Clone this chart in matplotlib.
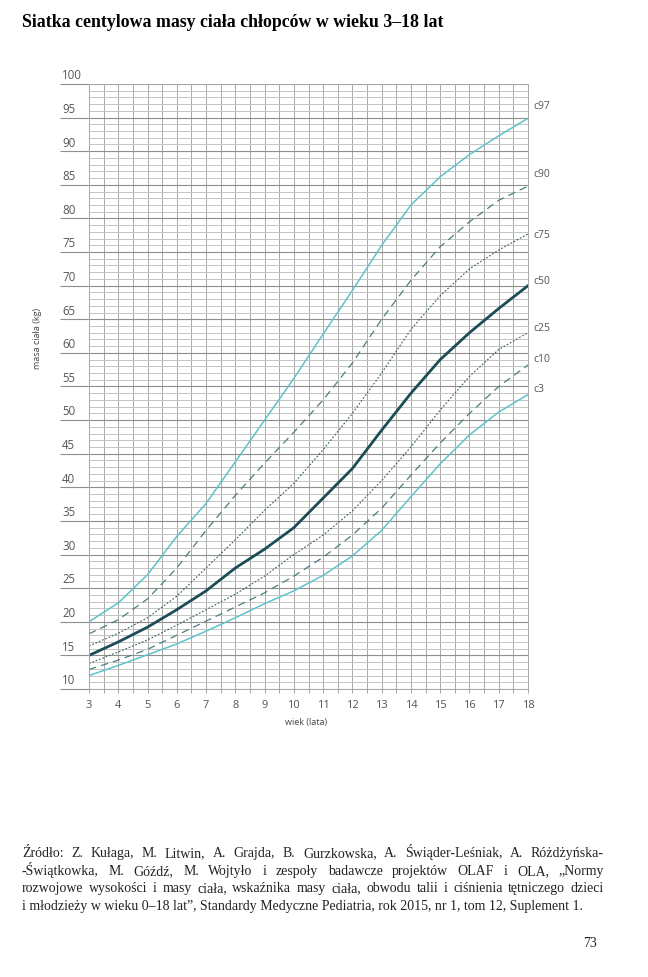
import numpy as np
import matplotlib
matplotlib.use("Agg")
import matplotlib.pyplot as plt
import matplotlib.transforms as mtransforms

wiek = [3, 4, 5, 6, 7, 8, 9, 10, 11, 12, 13, 14, 15, 16, 17, 18]
c3 = [12.0, 13.5, 15.1, 16.7, 18.6, 20.6, 22.7, 24.6, 26.9, 29.8, 33.6, 38.6, 43.5, 47.8, 51.2, 53.8]
c10 = [12.9, 14.3, 15.9, 18.0, 20.1, 22.2, 24.3, 26.8, 29.6, 32.9, 36.9, 41.8, 46.6, 51.0, 55.0, 58.2]
c25 = [13.8, 15.5, 17.3, 19.5, 21.8, 24.1, 26.8, 30.0, 32.9, 36.5, 41.0, 46.0, 51.5, 56.5, 60.5, 63.0]
c50 = [15.0, 17.0, 19.2, 21.8, 24.6, 28.0, 30.8, 34.0, 38.4, 42.8, 48.5, 54.0, 59.0, 63.0, 66.6, 70.0]
c75 = [16.4, 18.3, 20.6, 23.8, 28.0, 32.2, 36.6, 40.6, 45.6, 51.0, 57.0, 63.5, 68.5, 72.5, 75.3, 77.7]
c90 = [18.2, 20.3, 23.4, 28.0, 33.6, 38.8, 43.6, 48.2, 53.0, 58.5, 65.0, 70.8, 75.8, 79.5, 82.7, 84.8]
c97 = [20.0, 22.8, 27.0, 32.7, 37.6, 43.8, 50.0, 56.2, 62.8, 69.3, 76.0, 82.0, 86.2, 89.5, 92.3, 94.9]

y_ticks = list(range(10, 101, 5))

tytul = "Siatka centylowa masy ciała chłopców w wieku 3–18 lat"
zrodlo = [
    "Źródło: Z. Kułaga, M. Litwin, A. Grajda, B. Gurzkowska, A. Świąder-Leśniak, A. Różdżyńska-",
    "-Świątkowka, M. Góźdź, M. Wojtyło i zespoły badawcze projektów OLAF i OLA, „Normy",
    "rozwojowe wysokości i masy ciała, wskaźnika masy ciała, obwodu talii i ciśnienia tętniczego dzieci",
    "i młodzieży w wieku 0–18 lat”, Standardy Medyczne Pediatria, rok 2015, nr 1, tom 12, Suplement 1.",
]

W, H = 648, 977
fig = plt.figure(figsize=(W / 100, H / 100), dpi=100)
fig.patch.set_facecolor("white")

# obszar wykresu: x 89..528 px, y 84..689 px
ax = fig.add_axes([89 / W, 1 - 689 / H, (528 - 89) / W, (689 - 84) / H])
ax.set_xlim(3, 18)
ax.set_ylim(10, 100)

grid_minor = "#c4c4c4"
grid_major = "#8f8f8f"
ax.set_xticks(wiek)
ax.set_xticks(np.arange(3.5, 18, 1), minor=True)
ax.set_yticks(y_ticks)
ax.set_yticks(np.arange(10, 101, 1), minor=True)
ax.grid(which="minor", axis="y", color=grid_minor, lw=0.7)
ax.grid(which="major", axis="y", color=grid_major, lw=0.8)
ax.grid(which="both", axis="x", color="#a8a8a8", lw=0.7)
ax.set_axisbelow(True)
for s in ax.spines.values():
    s.set_color("#a8a8a8")
    s.set_linewidth(0.7)

ax.tick_params(axis="x", which="both", length=3, color="#a8a8a8", width=0.7,
               pad=5, labelsize=8, labelcolor="#555555")
ax.tick_params(axis="y", which="major", length=21, color=grid_major, width=0.8,
               labelleft=False)
ax.tick_params(axis="y", which="minor", length=0)
for lab in ax.get_xticklabels():
    lab.set_fontfamily("Open Sans")

# etykiety osi Y nad liniami
trans = mtransforms.blended_transform_factory(ax.transAxes, ax.transData)
for v in y_ticks:
    ax.text(-0.0615, v + 0.25, str(v), transform=trans, ha="left", va="bottom",
            fontsize=8.3, color="#555555", family="Open Sans")

ax.set_xlabel("wiek (lata)", fontsize=6.5, color="#444444", family="Open Sans",
              labelpad=4)
ax.xaxis.set_label_coords(0.495, -0.048)
ax.set_ylabel("masa ciała (kg)", fontsize=6.5, color="#444444", family="Open Sans")
ax.yaxis.set_label_coords(-0.108, 0.58)

cyan = "#5ec3c9"
ax.plot(wiek, c3, color=cyan, lw=1.1)
ax.plot(wiek, c10, color="#4d7c82", lw=0.9, dashes=(6, 4))
ax.plot(wiek, c25, color="#3a5f64", lw=0.8, dashes=(1.6, 1.6))
ax.plot(wiek, c50, color="#1c4d55", lw=2.0)
ax.plot(wiek, c75, color="#3a5f64", lw=0.8, dashes=(1.6, 1.6))
ax.plot(wiek, c90, color="#4d7c82", lw=0.9, dashes=(6, 4))
ax.plot(wiek, c97, color=cyan, lw=1.1)

for name, ser, dy in [("c97", c97, 8.5), ("c90", c90, 8.5), ("c75", c75, -1),
                      ("c50", c50, 3), ("c25", c25, 3), ("c10", c10, 4), ("c3", c3, 4)]:
    ax.annotate(name, (18, ser[-1]), xytext=(4, dy), textcoords="offset points",
                ha="left", va="center", fontsize=7.5, color="#555555",
                family="Open Sans", annotation_clip=False)

# tekst strony
fig.text(22 / W, 1 - 27 / H, tytul, ha="left", va="baseline", fontsize=12.8,
         fontweight="bold", family="Liberation Serif", color="black")

fig.canvas.draw()
r = fig.canvas.get_renderer()
x0, x1 = 22, 604
baselines = [857, 875, 892, 910]
for i, line in enumerate(zrodlo):
    yb = 1 - baselines[i] / H
    if i == len(zrodlo) - 1:
        fig.text(x0 / W, yb, line, ha="left", va="baseline", fontsize=10,
                 family="Liberation Serif", color="#222222")
        continue
    words = line.split(" ")
    ts = [fig.text(0, yb, w, ha="left", va="baseline", fontsize=10,
                   family="Liberation Serif", color="#222222") for w in words]
    widths = [t.get_window_extent(r).width for t in ts]
    gap = (x1 - x0 - sum(widths)) / (len(words) - 1)
    x = x0
    for t, w in zip(ts, widths):
        t.set_x(x / W)
        x += w + gap

fig.text(597 / W, 1 - 947 / H, "73", ha="right", va="baseline", fontsize=10,
         family="Liberation Serif", color="#222222")

fig.savefig("out.png", dpi=100, facecolor="white")
